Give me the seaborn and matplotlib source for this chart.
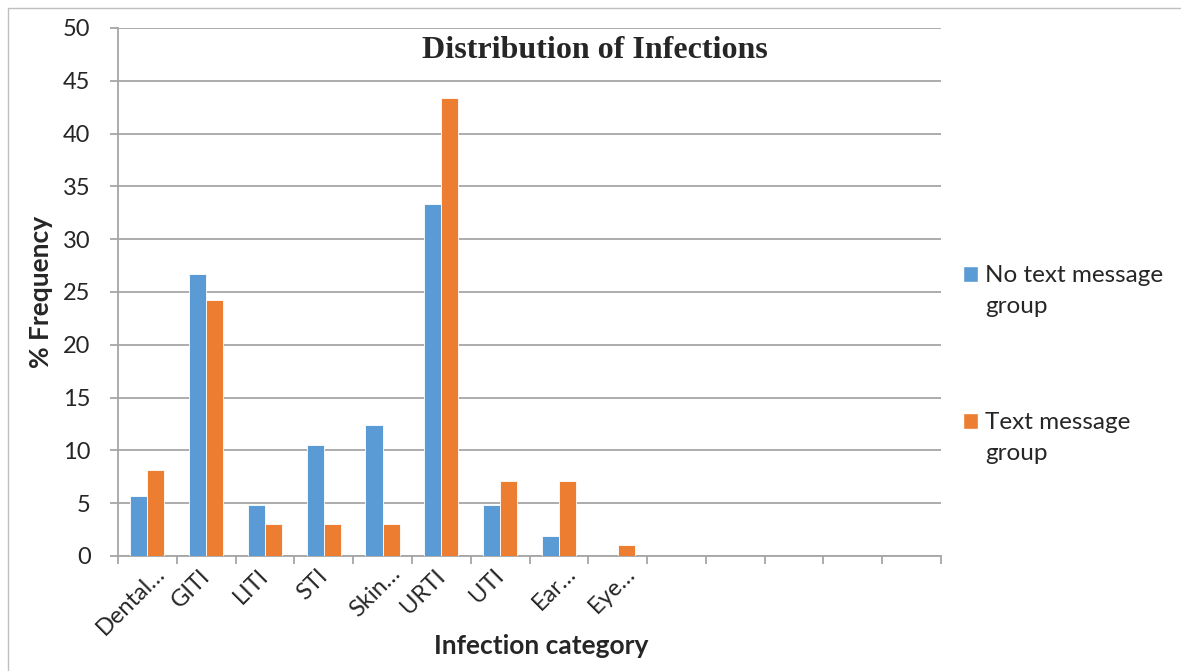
import matplotlib
matplotlib.use("Agg")
import matplotlib.pyplot as plt
import matplotlib.transforms as mtransforms
import seaborn as sns
import pandas as pd
from matplotlib.patches import Rectangle, Patch
from matplotlib.legend_handler import HandlerPatch

# data
categories = ["Dental\u2026", "GITI", "LITI", "STI", "Skin\u2026", "URTI", "UTI", "Ear\u2026", "Eye\u2026"]
no_text = [5.7, 26.7, 4.8, 10.5, 12.4, 33.3, 4.8, 1.9, 0.0]
text_msg = [8.1, 24.2, 3.0, 3.0, 3.0, 43.4, 7.1, 7.1, 1.0]
# empty slots on the category axis (as in the Excel original)
empty_slots = [" " * (i + 1) for i in range(5)]
group_names = ["No text message\ngroup", "Text message\ngroup"]
colors = ["#5B9BD5", "#ED7D31"]

df = pd.DataFrame({
    "category": categories * 2,
    "value": no_text + text_msg,
    "group": [group_names[0]] * len(categories) + [group_names[1]] * len(categories),
})
order = categories + empty_slots

sns.set_style("white")
plt.rcParams["font.family"] = ["Lato", "DejaVu Sans"]

fig = plt.figure(figsize=(11.81, 6.71), dpi=100)
ax = fig.add_axes([118 / 1181, 1 - 556 / 671, (941 - 118) / 1181, (556 - 28) / 671])

sns.barplot(data=df, x="category", y="value", hue="group", order=order,
            palette=colors, width=0.58, ax=ax, edgecolor="white", linewidth=0.6,
            saturation=1, zorder=3, legend=False)

grey = "#A6A6A6"
n = len(order)
ax.set_xlim(-0.5, n - 0.5)
ax.set_ylim(0, 50)
ax.set_yticks(range(0, 51, 5))
ax.yaxis.grid(True, color=grey, linewidth=1.3, zorder=0)
ax.set_axisbelow(True)
for s in ["top", "right"]:
    ax.spines[s].set_visible(False)
for s in ["left", "bottom"]:
    ax.spines[s].set_color(grey)
    ax.spines[s].set_linewidth(1.3)

ax.set_xticks(range(len(categories)))
ax.set_xticklabels(categories, rotation=45, ha="right", va="center",
                   rotation_mode="anchor", fontsize=17)
ax.set_xticks([i - 0.5 for i in range(n + 1)], minor=True)
ax.tick_params(axis="x", which="major", bottom=True, length=0, pad=12)
ax.tick_params(axis="x", which="minor", bottom=True, length=5.8, width=1.3, color=grey)
ax.tick_params(axis="y", left=True, length=5.8, width=1.3, color=grey, labelsize=17, pad=14)

# Excel nudges the truncated ("…") labels to the right
for lab in ax.get_xticklabels():
    if lab.get_text().endswith("\u2026"):
        off = mtransforms.ScaledTranslation(14 / 100, 3 / 100, fig.dpi_scale_trans)
        lab.set_transform(lab.get_transform() + off)

ax.set_xlabel("Infection category", fontsize=19, fontweight="bold")
ax.xaxis.set_label_coords(0.514, -0.148)
ax.set_ylabel("% Frequency", fontsize=19, fontweight="bold")
ax.yaxis.set_label_coords(-0.079, 0.5)
ax.text(0.58, 0.985, "Distribution of Infections", transform=ax.transAxes,
        ha="center", va="top", fontsize=23, fontweight="bold",
        family="Liberation Serif")


def top_square(legend, orig_handle, xdescent, ydescent, width, height, fontsize):
    # put the colour square level with the first line of a two-line label
    return Rectangle((-xdescent, -ydescent + 0.7 * fontsize), width, height)


handles = [Patch(facecolor=c) for c in colors]
leg = fig.legend(handles, group_names, loc="upper left",
                 bbox_to_anchor=(963 / 1181, 1 - 265 / 671), frameon=False,
                 fontsize=17.5, handlelength=0.62, handleheight=0.62,
                 handletextpad=0.3, labelspacing=3.93, borderpad=0,
                 borderaxespad=0,
                 handler_map={Patch: HandlerPatch(patch_func=top_square)})
for t in leg.get_texts():
    t.set_linespacing(1.58)

fig.patches.append(Rectangle((8 / 1181, -0.1), 1.2, 1 - 8 / 671 + 0.1,
                             transform=fig.transFigure, fill=False,
                             edgecolor="#BFBFBF", linewidth=1))

fig.savefig("out.png", dpi=100)
